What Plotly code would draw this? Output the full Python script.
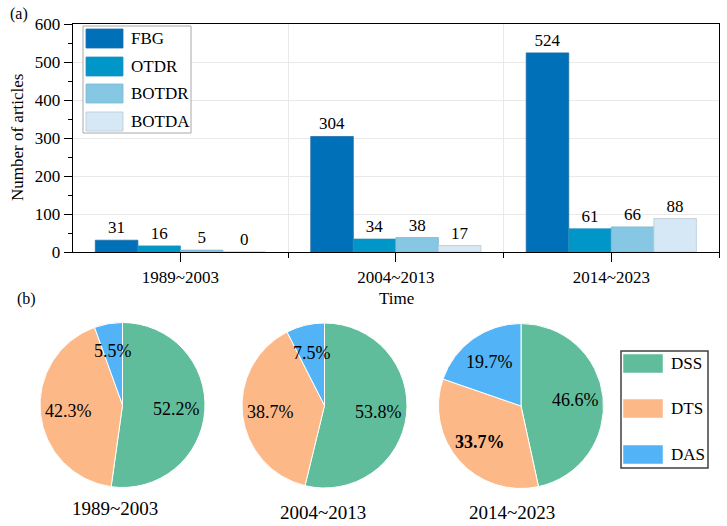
import math
import plotly.graph_objects as go

# ---------------- data ----------------
periods = ["1989~2003", "2004~2013", "2014~2023"]
bar_series = ["FBG", "OTDR", "BOTDR", "BOTDA"]
fbg = [31, 304, 524]
otdr = [16, 34, 61]
botdr = [5, 38, 66]
botda = [0, 17, 88]
bar_values = [fbg, otdr, botdr, botda]
y_ticks = [0, 100, 200, 300, 400, 500, 600]

pie_labels = ["DSS", "DTS", "DAS"]
pie_1989 = [52.2, 42.3, 5.5]
pie_2004 = [53.8, 38.7, 7.5]
pie_2014 = [46.6, 33.7, 19.7]
pie_values = [pie_1989, pie_2004, pie_2014]
bold_pct = [[False, False, False], [False, False, False], [False, True, False]]

# ---------------- style ----------------
W, H = 727, 526
FONT = "Liberation Serif, Times New Roman, serif"
bar_colors = ["#0070B8", "#0096C8", "#86C8E3", "#D6E8F5"]
bar_edges = ["#1f6fa8", "#2a90bd", "#7fb6cf", "#b9cad6"]
pie_colors = ["#60BD9C", "#FDB887", "#52B3F6"]
GRID = "#e9e9e9"


def fx(px):
    return px / W


def fy(py):
    return 1 - py / H


fig = go.Figure()

# ---------------- (a) bar chart ----------------
x_idx = list(range(len(periods)))
for name, vals, col, edge in zip(bar_series, bar_values, bar_colors, bar_edges):
    fig.add_trace(go.Bar(
        x=x_idx, y=vals, name=name,
        marker=dict(color=col, line=dict(color=edge, width=0.8)),
        text=[str(v) for v in vals], textposition="outside",
        textfont=dict(family=FONT, size=17, color="black"),
        cliponaxis=False, showlegend=False, xaxis="x", yaxis="y",
    ))

fig.update_layout(
    barmode="group", bargap=0.21, bargroupgap=0,
    xaxis=dict(
        domain=[fx(72.7), fx(719)], range=[-0.5, 2.5], automargin=False,
        tickmode="array", tickvals=x_idx, ticktext=periods,
        ticks="outside", ticklen=9, tickwidth=1.3, tickcolor="black",
        showgrid=False, zeroline=False,
        showline=True, linecolor="black", linewidth=1.3, mirror=True,
        tickfont=dict(family=FONT, size=17, color="black"),
        minor=dict(tickmode="array", tickvals=[0.5, 1.5, 2.5], ticks="outside",
                   ticklen=5, tickwidth=1.3, tickcolor="black",
                   showgrid=True, gridcolor=GRID, gridwidth=1),
    ),
    yaxis=dict(
        domain=[fy(252), fy(24)], range=[0, 600], automargin=False,
        tickmode="array", tickvals=y_ticks,
        ticks="outside", ticklen=8, tickwidth=1.3, tickcolor="black",
        showgrid=True, gridcolor=GRID, gridwidth=1, zeroline=False,
        showline=True, linecolor="black", linewidth=1.3, mirror=True,
        tickfont=dict(family=FONT, size=17, color="black"),
        minor=dict(dtick=50, ticks="outside", ticklen=4, tickwidth=1.3,
                   tickcolor="black", showgrid=False),
    ),
)

shapes = []
annotations = []

# axis titles
annotations.append(dict(xref="paper", yref="paper", x=fx(396), y=fy(298), text="Time",
                        showarrow=False, xanchor="center", yanchor="middle",
                        font=dict(family=FONT, size=17, color="black")))
annotations.append(dict(xref="paper", yref="paper", x=fx(17), y=fy(138), text="Number of articles",
                        showarrow=False, xanchor="center", yanchor="middle", textangle=-90,
                        font=dict(family=FONT, size=17, color="black")))

# legend for bars
shapes.append(dict(type="rect", xref="paper", yref="paper",
                   x0=fx(83), x1=fx(191), y0=fy(133), y1=fy(26),
                   line=dict(color="#a8a8a8", width=1), fillcolor="white", layer="above"))
leg_tops = [29, 57, 84, 112]
for name, col, edge, top in zip(bar_series, bar_colors, bar_edges, leg_tops):
    shapes.append(dict(type="rect", xref="paper", yref="paper",
                       x0=fx(86), x1=fx(123), y0=fy(top + 19), y1=fy(top),
                       line=dict(color=edge, width=0.8), fillcolor=col, layer="above"))
    annotations.append(dict(xref="paper", yref="paper", x=fx(129), y=fy(top + 9.5),
                            text=name, showarrow=False, xanchor="left", yanchor="middle",
                            font=dict(family=FONT, size=17, color="black")))

annotations.append(dict(xref="paper", yref="paper", x=fx(19), y=fy(14), text="(a)",
                        showarrow=False, xanchor="center", yanchor="middle",
                        font=dict(family=FONT, size=16, color="black")))
annotations.append(dict(xref="paper", yref="paper", x=fx(26), y=fy(299), text="(b)",
                        showarrow=False, xanchor="center", yanchor="middle",
                        font=dict(family=FONT, size=16, color="black")))

# ---------------- (b) pies ----------------
pie_centers = [(122.5, 405), (324.5, 405.5), (521, 406)]
pie_title_pos = [(115, 508), (323, 512), (512, 512)]
R = 82.5
for vals, (cx, cy), (tx, ty), bolds, per in zip(pie_values, pie_centers, pie_title_pos, bold_pct, periods):
    fig.add_trace(go.Pie(
        values=vals, labels=pie_labels, sort=False, direction="clockwise", rotation=0,
        textinfo="none", hoverinfo="label+percent",
        marker=dict(colors=pie_colors, line=dict(color="white", width=1)),
        domain=dict(x=[fx(cx - R), fx(cx + R)], y=[fy(cy + R), fy(cy - R)]),
        showlegend=False,
    ))
    total = sum(vals)
    cum = 0.0
    for v, b in zip(vals, bolds):
        mid = (cum + v / 2) / total * 2 * math.pi
        cum += v
        lx = cx + 0.66 * R * math.sin(mid)
        ly = cy - 0.66 * R * math.cos(mid)
        txt = f"{v:.1f}%"
        if b:
            txt = f"<b>{txt}</b>"
        annotations.append(dict(xref="paper", yref="paper", x=fx(lx), y=fy(ly), text=txt,
                                showarrow=False, xanchor="center", yanchor="middle",
                                font=dict(family=FONT, size=18, color="black")))
    annotations.append(dict(xref="paper", yref="paper", x=fx(tx), y=fy(ty), text=per,
                            showarrow=False, xanchor="center", yanchor="middle",
                            font=dict(family=FONT, size=19, color="black")))

# legend for pies
shapes.append(dict(type="rect", xref="paper", yref="paper",
                   x0=fx(621), x1=fx(708), y0=fy(468), y1=fy(351),
                   line=dict(color="#404040", width=1.5), fillcolor="rgba(0,0,0,0)"))
pie_leg_tops = [354, 399, 445]
for name, col, top in zip(pie_labels, pie_colors, pie_leg_tops):
    shapes.append(dict(type="rect", xref="paper", yref="paper",
                       x0=fx(623), x1=fx(663), y0=fy(top + 19), y1=fy(top),
                       line=dict(color="white", width=0.5), fillcolor=col))
    annotations.append(dict(xref="paper", yref="paper", x=fx(669), y=fy(top + 9.5),
                            text=name, showarrow=False, xanchor="left", yanchor="middle",
                            font=dict(family=FONT, size=17, color="black")))

fig.update_layout(
    width=W, height=H,
    margin=dict(l=0, r=0, t=0, b=0, autoexpand=False),
    paper_bgcolor="white", plot_bgcolor="white",
    font=dict(family=FONT, size=17, color="black"),
    shapes=shapes, annotations=annotations,
    showlegend=False,
)

fig.write_html(
    "out.html",
    config={"responsive": False, "displayModeBar": False},
    post_script="document.body.style.margin='0';document.body.style.padding='0';document.body.style.overflow='hidden';",
)
